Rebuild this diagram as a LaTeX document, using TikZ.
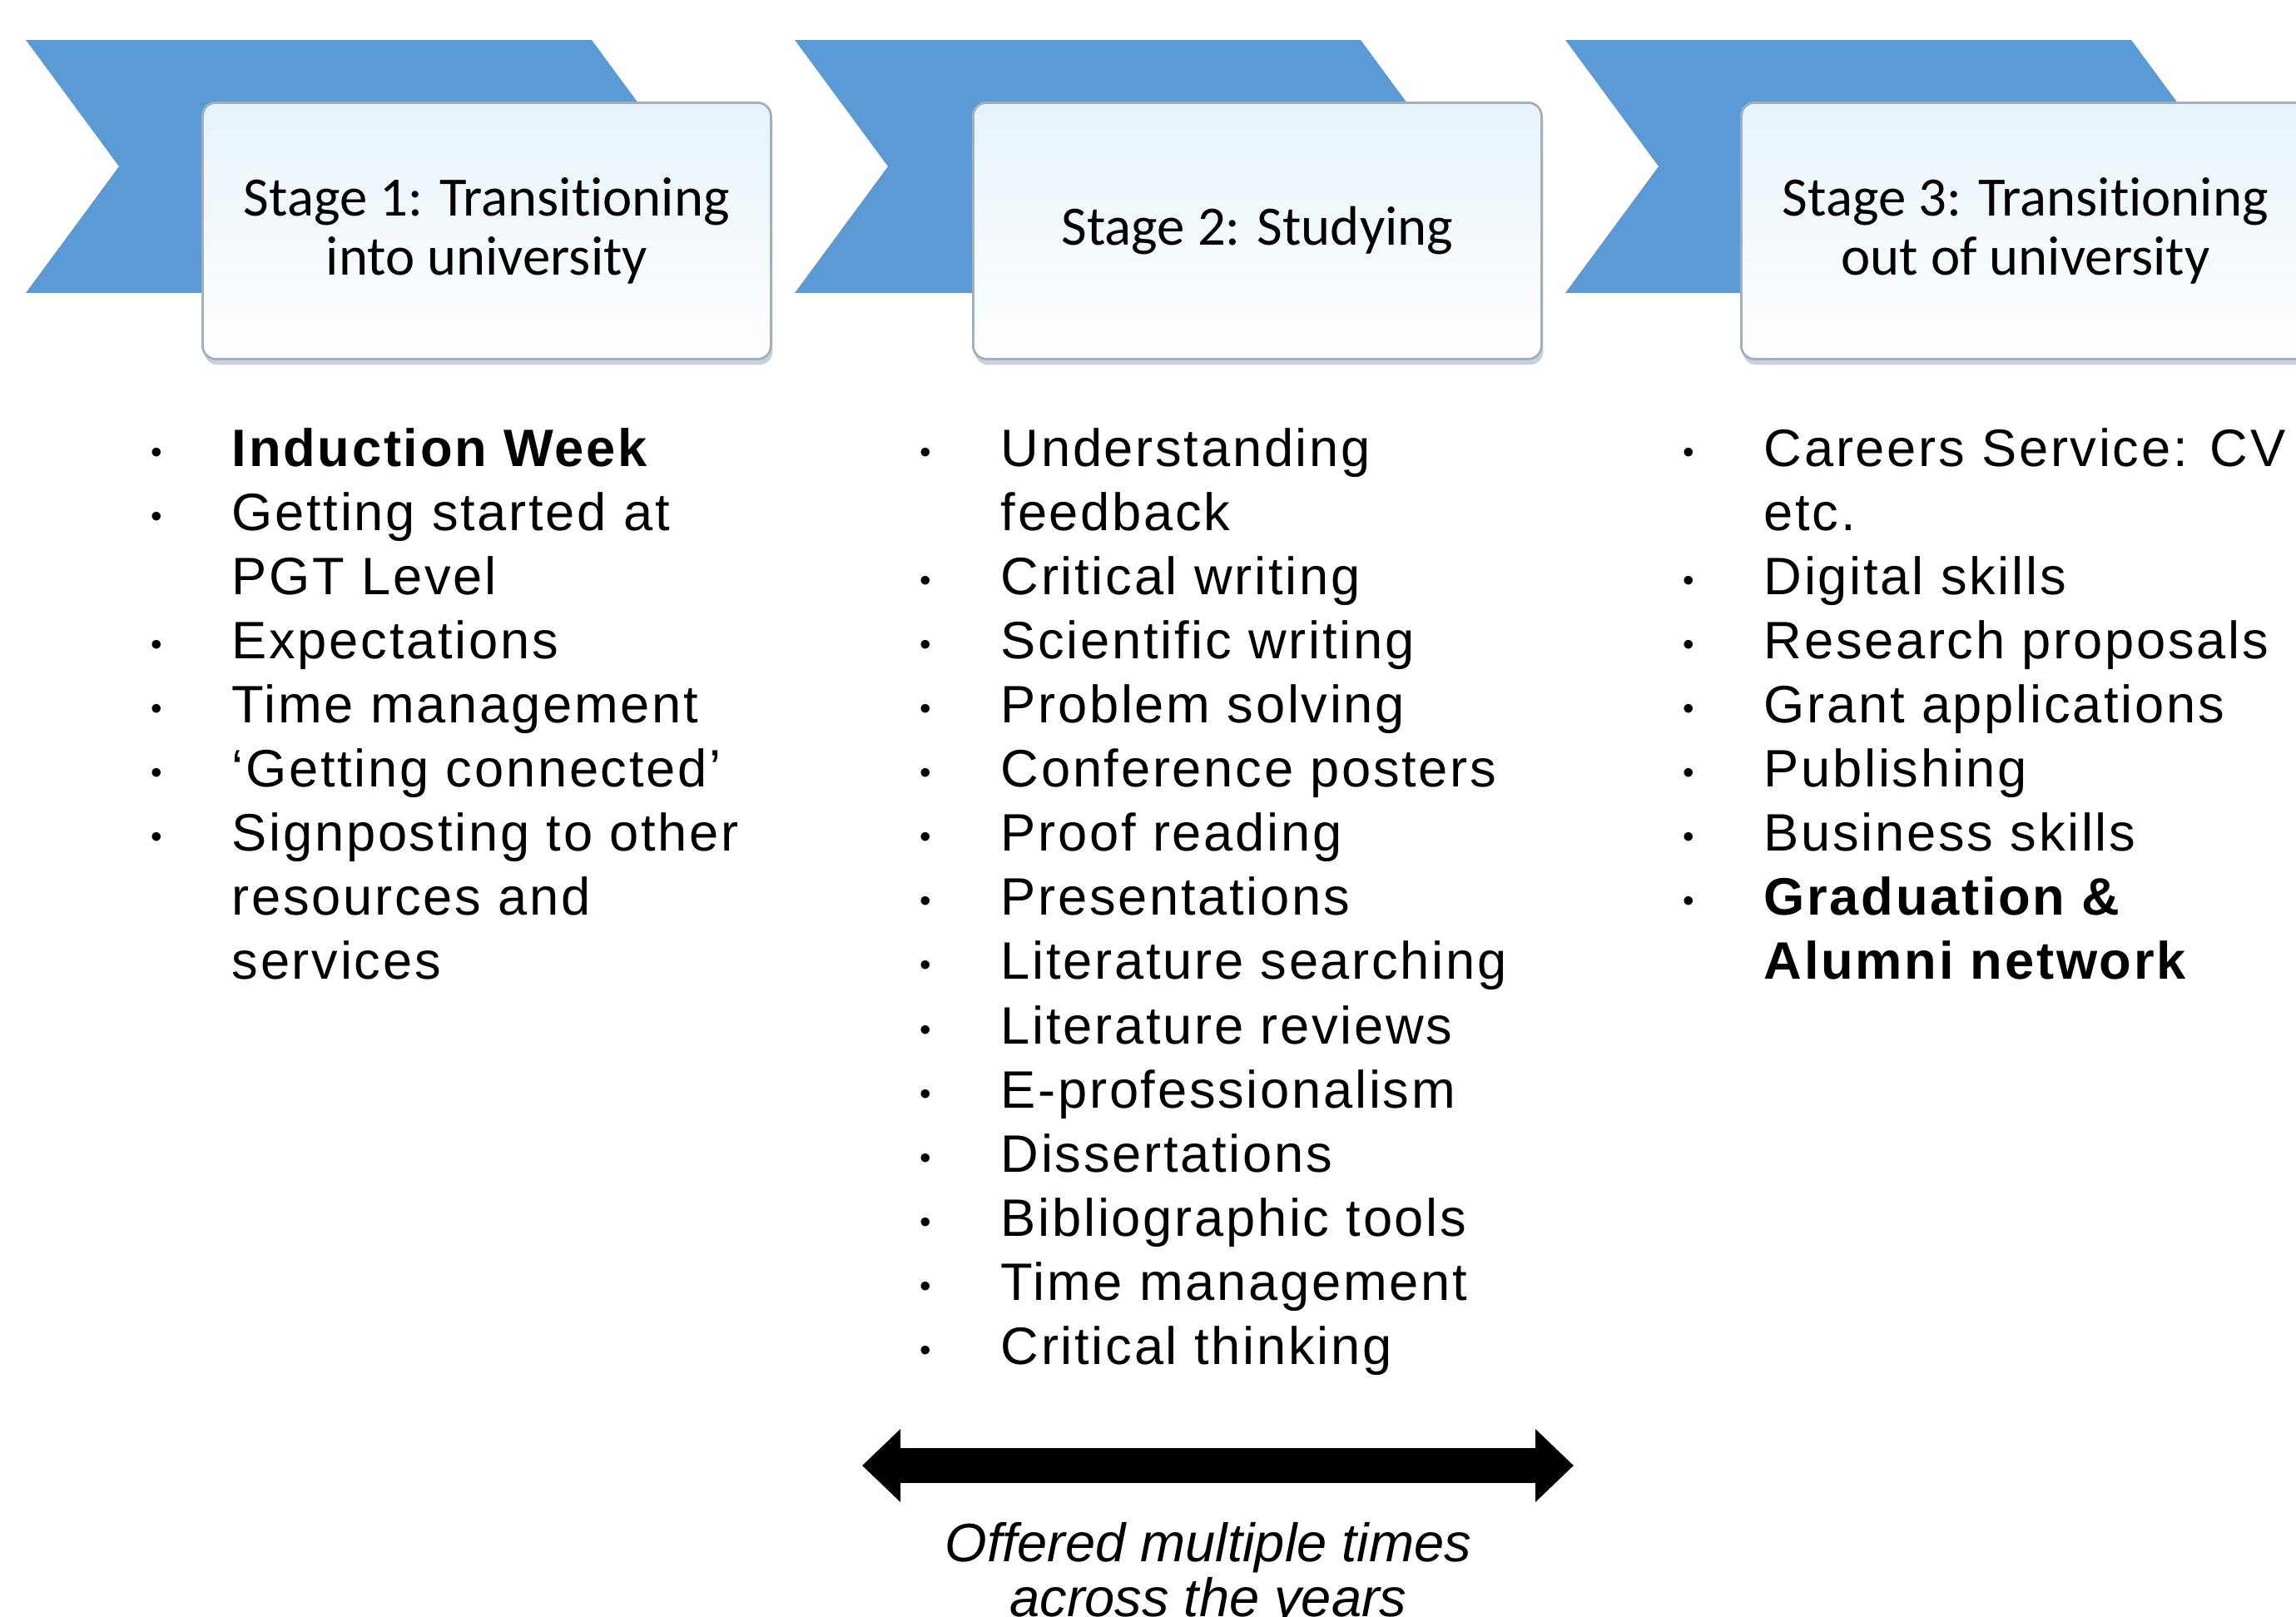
\documentclass[tikz,border=0pt]{standalone}
\usepackage{fontspec}
\setmainfont{Liberation Sans}
\newfontfamily\stagefont[Ligatures=NoCommon]{Carlito}
\newfontfamily\listfont[LetterSpace=4.3]{Liberation Sans}
\usetikzlibrary{arrows.meta,shadows}
\definecolor{chevblue}{HTML}{5B9BD5}
\definecolor{boxline}{HTML}{A3AFBB}
\definecolor{boxtop}{HTML}{E6F3FA}
\definecolor{boxshadow}{HTML}{C5D1DC}
\newcommand{\blt}{\raisebox{0.04cm}{\fontsize{11}{11}\selectfont\textbullet}}
\tikzset{
  chevron/.style={fill=chevblue},
  stagebox/.style={draw=boxline, line width=0.8pt, rounded corners=0.16cm,
    top color=boxtop, bottom color=white, minimum width=6.83cm,
    minimum height=3.08cm, anchor=north west, align=center,
    font=\stagefont\fontsize{19}{20.2}\selectfont,
    drop shadow={shadow xshift=0.02cm, shadow yshift=-0.07cm, fill=boxshadow, opacity=1}},
  itemlist/.style={anchor=base west, inner sep=0pt,
    font=\listfont\fontsize{18}{21.94}\selectfont},
  spanarrow/.style={line width=0.42cm,
    {Triangle[length=0.46cm,width=0.85cm]}-{Triangle[length=0.46cm,width=0.85cm]}}
}
\begin{document}
\begin{tikzpicture}
  \useasboundingbox (0,0) rectangle (27.59,-19.42);
  % chevrons behind the stages
  \foreach \x in {0.31,9.55,18.81}
    \fill[chevron] (\x,-0.48) -- ++(6.8,0) -- ++(1.12,-1.52) -- ++(-1.12,-1.52)
      -- ++(-6.8,0) -- ++(1.12,1.52) -- cycle;
  % stage boxes
  \node[stagebox] (stage1) at (2.42,-1.22) {Stage 1: Transitioning\\into university};
  \node[stagebox] (stage2) at (11.68,-1.22) {Stage 2: Studying};
  \node[stagebox] (stage3) at (20.91,-1.22) {Stage 3: Transitioning\\out of university};
  % lists
  \node[itemlist] (list1) at (1.81,-5.60) {\begin{tabular}[t]{@{}p{0.97cm}@{}l@{}}
    \blt & \textbf{Induction Week}\\
    \blt & Getting started at\\
         & PGT Level\\
    \blt & Expectations\\
    \blt & Time management\\
    \blt & ‘Getting connected’\\
    \blt & Signposting to other\\
         & resources and\\
         & services
  \end{tabular}};
  \node[itemlist] (list2) at (11.05,-5.60) {\begin{tabular}[t]{@{}p{0.97cm}@{}l@{}}
    \blt & Understanding\\
         & feedback\\
    \blt & Critical writing\\
    \blt & Scientific writing\\
    \blt & Problem solving\\
    \blt & Conference posters\\
    \blt & Proof reading\\
    \blt & Presentations\\
    \blt & Literature searching\\
    \blt & Literature reviews\\
    \blt & E-professionalism\\
    \blt & Dissertations\\
    \blt & Bibliographic tools\\
    \blt & Time management\\
    \blt & Critical thinking
  \end{tabular}};
  \node[itemlist] (list3) at (20.22,-5.60) {\begin{tabular}[t]{@{}p{0.97cm}@{}l@{}}
    \blt & Careers Service: CV\\
         & etc.\\
    \blt & Digital skills\\
    \blt & Research proposals\\
    \blt & Grant applications\\
    \blt & Publishing\\
    \blt & Business skills\\
    \blt & \textbf{Graduation \&}\\
         & \textbf{Alumni network}
  \end{tabular}};
  % offered across the years
  \coordinate (spanL) at (10.36,-17.61);
  \coordinate (spanR) at (18.91,-17.61);
  \draw[spanarrow] (spanL) -- (spanR);
  \node[anchor=base, inner sep=0pt, font=\itshape\fontsize{18.5}{18.5}\selectfont]
    (note) at (14.52,-18.76) {\begin{tabular}[t]{@{}c@{}}
    Offered multiple times\\
    across the years
  \end{tabular}};
\end{tikzpicture}
\end{document}
